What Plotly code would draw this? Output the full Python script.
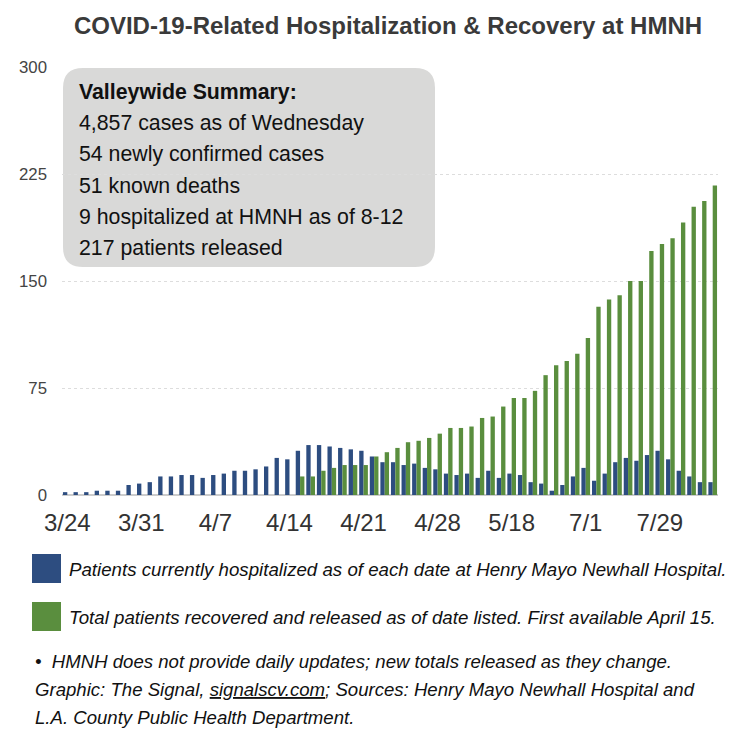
import plotly.graph_objects as go

# ---- data ----
dates = (
    ["3/24", "3/25", "3/26", "3/27", "3/28", "3/29", "3/30", "3/31"]
    + [f"4/{d}" for d in range(1, 29)]
    + ["4/30", "5/1", "5/4", "5/6", "5/8", "5/13", "5/18",
       "5/22", "5/28", "6/3", "6/10", "6/17", "6/24", "7/1",
       "7/6", "7/8", "7/13", "7/17", "7/20", "7/24", "7/29",
       "7/31", "8/3", "8/5", "8/7", "8/12"]
)

hospitalized = [
    2, 2, 2, 3, 3, 3, 7, 8, 9, 13, 13, 14, 14, 12, 14, 15, 17, 17,
    18, 20, 26, 25,
    31, 35, 35, 34, 33, 32, 31, 27, 23, 23, 21, 22, 19, 18, 15, 14, 15, 12,
    17, 12, 15, 14, 9, 8, 3, 7, 13, 19, 10, 15, 23, 26, 24, 28, 31, 25, 17, 13, 9, 9,
]

released = [None] * 22 + [
    13, 13, 17, 19, 21, 21, 21, 27, 30, 33, 37, 38, 40, 43, 47, 47, 48, 54,
    55, 62, 68, 68, 73, 84, 91, 94, 99, 110, 132, 137, 140, 150, 150, 171, 176, 180,
    191, 202, 206, 217,
]

tick_labels = dates[::7]

summary_title = "Valleywide Summary:"
summary_lines = [
    "4,857 cases as of Wednesday",
    "54 newly confirmed cases",
    "51 known deaths",
    "9 hospitalized at HMNH as of 8-12",
    "217 patients released",
]

legend_texts = [
    "Patients currently hospitalized as of each date at Henry Mayo Newhall Hospital.",
    "Total patients recovered and released as of date listed. First available April 15.",
]
footnotes = [
    "\u2022  HMNH does not provide daily updates; new totals released as they change.",
    "Graphic: The Signal, <u>signalscv.com</u>; Sources: Henry Mayo Newhall Hospital and",
    "L.A. County Public Health Department.",
]

BLUE = "#2d4d80"
GREEN = "#5a8e3e"
FONT = "Liberation Sans, Arial, Helvetica, sans-serif"

# ---- geometry (page has an 8px body margin) ----
OFF = 8
W, H = 748 - OFF, 743 - OFF
L, R, T, B = 62 - OFF, 30, 67 - OFF, 248
PW, PH = W - L - R, H - T - B
PLOT_LEFT_SCREEN, PLOT_BOTTOM_SCREEN = 62, 495


def px(x):
    return (x - PLOT_LEFT_SCREEN) / PW


def py(y):
    return (PLOT_BOTTOM_SCREEN - y) / PH


fig = go.Figure()
fig.add_trace(go.Bar(x=dates, y=hospitalized, marker_color=BLUE,
                     name="Hospitalized", marker_line_width=0))
fig.add_trace(go.Bar(x=dates, y=released, marker_color=GREEN,
                     name="Released", marker_line_width=0))

shapes = []
# rounded summary box
x0, x1, y0, y1 = px(63), px(435), py(267), py(68)
rx, ry = 20 / PW, 20 / PH
path = (f"M {x0+rx},{y1} L {x1-rx},{y1} Q {x1},{y1} {x1},{y1-ry} "
        f"L {x1},{y0+ry} Q {x1},{y0} {x1-rx},{y0} L {x0+rx},{y0} "
        f"Q {x0},{y0} {x0},{y0+ry} L {x0},{y1-ry} Q {x0},{y1} {x0+rx},{y1} Z")
shapes.append(dict(type="path", xref="paper", yref="paper", path=path,
                   fillcolor="#d9d9d8", line=dict(width=0), layer="below"))
# legend swatches
for (top, col) in [(554, BLUE), (602, GREEN)]:
    shapes.append(dict(type="rect", xref="paper", yref="paper",
                       x0=px(32), x1=px(61), y0=py(top + 29), y1=py(top),
                       fillcolor=col, line=dict(width=0)))

annotations = []
annotations.append(dict(xref="paper", yref="paper", x=px(77), y=py(92),
                        xanchor="left", yanchor="middle", showarrow=False,
                        text=f"<b>{summary_title}</b>",
                        font=dict(family=FONT, size=21.3, color="#111")))
for i, line in enumerate(summary_lines):
    annotations.append(dict(xref="paper", yref="paper", x=px(77), y=py(123.3 + 31.1 * i),
                            xanchor="left", yanchor="middle", showarrow=False,
                            text=line, font=dict(family=FONT, size=21.3, color="#111")))
for i, t in enumerate(legend_texts):
    annotations.append(dict(xref="paper", yref="paper", x=px(67), y=py(569 + 48 * i),
                            xanchor="left", yanchor="middle", showarrow=False,
                            text=t, font=dict(family=FONT, size=18.7, color="#111",
                                              style="italic")))
for i, t in enumerate(footnotes):
    annotations.append(dict(xref="paper", yref="paper", x=px(33), y=py(661.5 + 28 * i),
                            xanchor="left", yanchor="middle", showarrow=False,
                            text=t, font=dict(family=FONT, size=18.6, color="#111",
                                              style="italic")))

fig.update_layout(
    width=W, height=H,
    margin=dict(l=L, r=R, t=T, b=B, pad=0),
    paper_bgcolor="white", plot_bgcolor="white",
    barmode="group", bargap=0.18, bargroupgap=0,
    showlegend=False,
    title=dict(text="<b>COVID-19-Related Hospitalization & Recovery at HMNH</b>",
               x=(388 - OFF) / W, xanchor="center", xref="container",
               y=1 - (26 - OFF) / H, yanchor="middle", yref="container",
               font=dict(family=FONT, size=24, color="#3a3a3a")),
    font=dict(family=FONT),
    shapes=shapes,
    annotations=annotations,
)
fig.update_xaxes(type="category", categoryorder="array", categoryarray=dates,
                 tickmode="array", tickvals=tick_labels, ticktext=tick_labels,
                 tickfont=dict(family=FONT, size=24, color="#333"),
                 showgrid=False, ticks="", ticklabelstandoff=11,
                 showline=False, range=[-0.5, len(dates) - 0.5])
fig.update_yaxes(range=[0, 300], tickmode="array", tickvals=[0, 75, 150, 225, 300],
                 tickfont=dict(family=FONT, size=16.8, color="#444"),
                 showgrid=True, gridcolor="#dddddd", griddash="dot", gridwidth=1,
                 zeroline=True, zerolinecolor="#cccccc", zerolinewidth=2,
                 ticks="", ticklabelstandoff=14, showline=False)

fig.write_html("out.html")
